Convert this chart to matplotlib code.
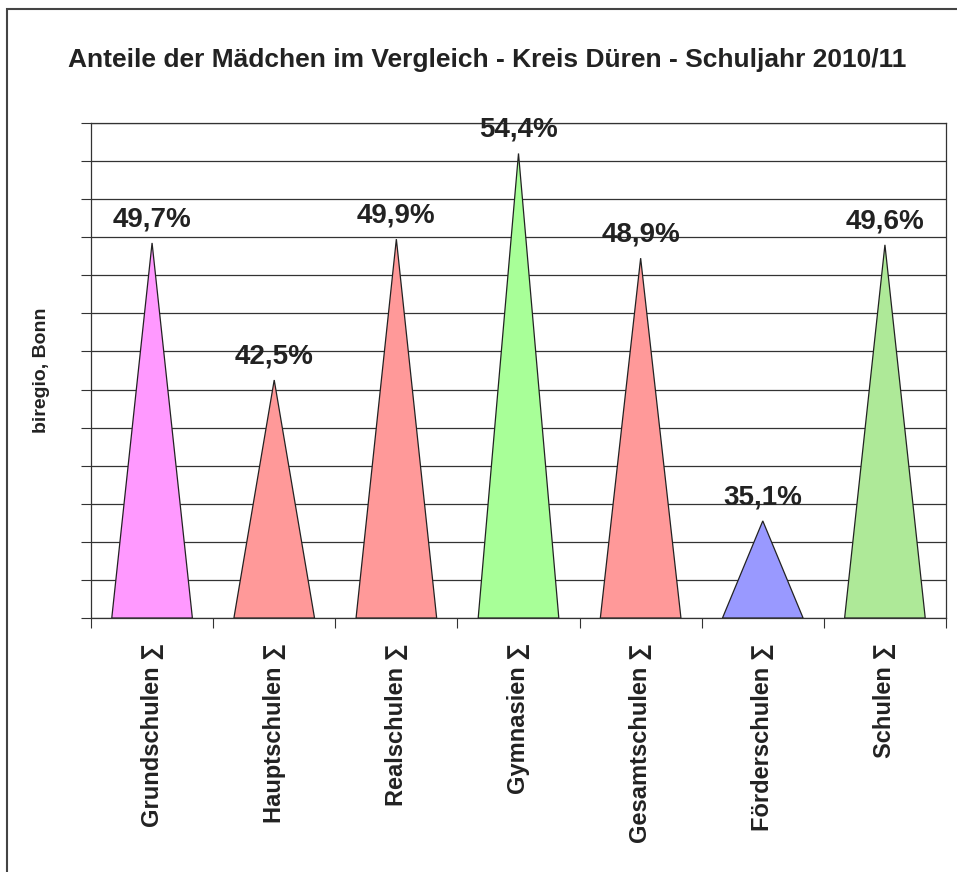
import numpy as np
import matplotlib.pyplot as plt
from matplotlib.patches import Rectangle

plt.rcParams['font.family'] = ['Liberation Sans', 'DejaVu Sans']

categories = ["Grundschulen \u2211", "Hauptschulen \u2211", "Realschulen \u2211", "Gymnasien \u2211",
              "Gesamtschulen \u2211", "F\u00f6rderschulen \u2211", "Schulen \u2211"]
values = [49.7, 42.5, 49.9, 54.4, 48.9, 35.1, 49.6]
labels = ["49,7%", "42,5%", "49,9%", "54,4%", "48,9%", "35,1%", "49,6%"]
colors = ["#FF99FF", "#FF9999", "#FF9999", "#A8FF98", "#FF9999", "#9999FF", "#AEE998"]

ymin, ymax = 30, 56

fig = plt.figure(figsize=(9.57, 8.72), dpi=100)
ax = fig.add_axes([91/957, 1 - 618/872, (946 - 91)/957, (618 - 123)/872])

# cone shaped bars as triangles
w = 0.66
for i, (v, c) in enumerate(zip(values, colors)):
    ax.fill([i - w/2, i, i + w/2], [ymin, v, ymin], facecolor=c, edgecolor="#222222",
            linewidth=0.9, zorder=3)
    ax.annotate(labels[i], (i, v), xytext=(0, 17), textcoords="offset points",
                ha="center", va="center", fontsize=20, fontweight="bold", color="#222222")

ax.set_xlim(-0.5, len(values) - 0.5)
ax.set_ylim(ymin, ymax)
ax.set_yticks(np.arange(ymin, ymax + 1, 2))
ax.set_yticklabels([])
ax.yaxis.grid(True, color="#333333", linewidth=0.9)
ax.set_axisbelow(True)
ax.tick_params(axis="y", direction="out", length=7, width=0.8, color="#333333")

ax.set_xticks(np.arange(-0.5, len(values), 1), minor=True)
ax.set_xticks(range(len(values)))
ax.set_xticklabels(categories, rotation=90, fontsize=17, fontweight="bold", color="#222222")
ax.tick_params(axis="x", which="major", length=0, pad=18)
ax.tick_params(axis="x", which="minor", direction="out", length=7, width=0.8, color="#333333")

for s in ax.spines.values():
    s.set_color("#333333")
    s.set_linewidth(0.9)

ax.set_ylabel("biregio, Bonn", fontsize=14, fontweight="bold", color="#222222")
ax.yaxis.set_label_coords((50 - 91) / 855, 0.5)

fig.text(487/957, 1 - 60/872, "Anteile der M\u00e4dchen im Vergleich - Kreis D\u00fcren - Schuljahr 2010/11",
         ha="center", va="center", fontsize=19, fontweight="bold", color="#222222")

fig.patches.append(Rectangle((7/957, -0.1), 1.2, 1.1 - 9/872, transform=fig.transFigure,
                             fill=False, edgecolor="#444444", linewidth=1.5))

fig.savefig("out.png", dpi=100)
